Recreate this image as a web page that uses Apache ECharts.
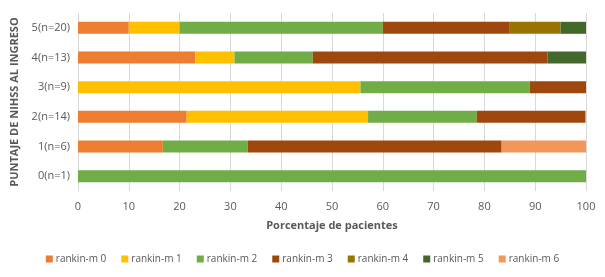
<!DOCTYPE html>
<html>
<head>
<meta charset="utf-8">
<script src="https://cdn.jsdelivr.net/npm/echarts@6/dist/echarts.min.js"></script>
<style>
  html, body { margin: 0; padding: 0; background: #fff; }
  #chart { width: 605px; height: 277px; }
</style>
</head>
<body>
<div id="chart"></div>
<script>
    // categories bottom -> top
    var categories = ['0(n=1)', '1(n=6)', '2(n=14)', '3(n=9)', '4(n=13)', '5(n=20)'];
    var seriesNames = ['rankin-m 0', 'rankin-m 1', 'rankin-m 2', 'rankin-m 3', 'rankin-m 4', 'rankin-m 5', 'rankin-m 6'];
    var colors = ['#ED7D31', '#FFC000', '#70AD47', '#9E480E', '#997300', '#43682B', '#F1975A'];

    // percentage of patients per category
    var rankin0 = [0, 16.7, 21.4, 0, 23.1, 10];
    var rankin1 = [0, 0, 35.7, 55.6, 7.7, 10];
    var rankin2 = [100, 16.7, 21.4, 33.3, 15.4, 40];
    var rankin3 = [0, 50, 21.4, 11.1, 46.2, 25];
    var rankin4 = [0, 0, 0, 0, 0, 10];
    var rankin5 = [0, 0, 0, 0, 7.7, 5];
    var rankin6 = [0, 16.7, 0, 0, 0, 0];
    var values = [rankin0, rankin1, rankin2, rankin3, rankin4, rankin5, rankin6];

    var chart = echarts.init(document.getElementById('chart'));
    var series = [];
    for (var i = 0; i < seriesNames.length; i++) {
        series.push({
            name: seriesNames[i],
            type: 'bar',
            stack: 'total',
            barWidth: 12,
            itemStyle: { color: colors[i] },
            data: values[i]
        });
    }

    var option = {
        animation: false,
        textStyle: { fontFamily: 'Open Sans, sans-serif' },
        grid: { left: 78, right: 19, top: 13, bottom: 86 },
        legend: {
            bottom: 8,
            left: 'center',
            itemWidth: 7,
            itemHeight: 7,
            itemGap: 15,
            icon: 'rect',
            textStyle: { color: '#595959', fontSize: 10, padding: [0, 0, 0, -2] },
            data: seriesNames
        },
        xAxis: {
            type: 'value',
            min: 0,
            max: 100,
            interval: 10,
            name: 'Porcentaje de pacientes',
            nameLocation: 'middle',
            nameGap: 29,
            nameTextStyle: { color: '#595959', fontWeight: 'bold', fontSize: 11 },
            axisLine: { show: false },
            axisTick: { show: false },
            axisLabel: { color: '#595959', fontSize: 11, margin: 10 },
            splitLine: { lineStyle: { color: '#D9D9D9' } }
        },
        yAxis: {
            type: 'category',
            data: categories,
            name: 'PUNTAJE DE NIHSS AL INGRESO',
            nameLocation: 'middle',
            nameGap: 50,
            nameTextStyle: { color: '#595959', fontWeight: 'bold', fontSize: 11 },
            axisLine: { lineStyle: { color: '#D9D9D9' } },
            axisTick: { show: false },
            axisLabel: { color: '#595959', fontSize: 11, margin: 8 }
        },
        series: series
    };
    chart.setOption(option);
</script>
</body>
</html>
